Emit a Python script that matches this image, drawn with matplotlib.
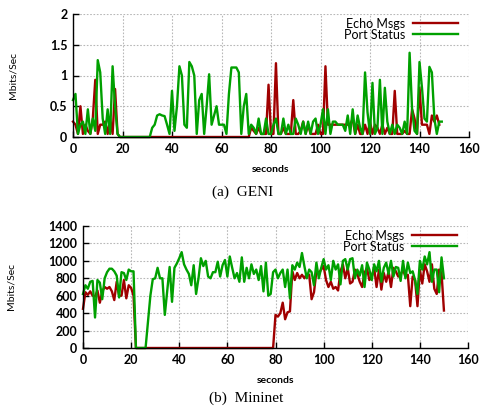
import matplotlib
matplotlib.use("Agg")
import matplotlib.pyplot as plt
import numpy as np

# ---------------- data ----------------
geni_port = [0.60, 0.70, 0.05, 0.20, 0.25, 0.05, 0.45, 0.05, 0.30, 0.10,
             1.25, 1.05, 0.30, 0.05, 0.45, 0.05, 1.15, 0.50, 0.05, 0.00,
             0, 0, 0, 0, 0, 0, 0, 0, 0, 0, 0, 0,
             0.15, 0.20, 0.35, 0.37, 0.35, 0.34, 0.20, 0.05,
             0.75, 0.10, 0.50, 1.15, 1.00, 0.20, 0.15, 1.22, 1.15, 1.00,
             0.05, 0.60, 0.70, 0.05, 0.50, 1.02, 0.20, 0.35, 0.50, 0.20,
             0.20, 0.20, 0.05, 0.70, 1.13, 1.13, 1.13, 1.05, 0.05, 0.50,
             0.70, 0.05, 0.20, 0.15, 0.05, 0.30, 0.05, 0.05, 0.30, 0.05,
             0.05, 0.20, 0.30, 0.05, 0.05, 0.30, 0.05, 0.20, 0.05, 0.05,
             0.30, 0.20, 0.05, 0.25, 0.05, 0.25, 0.05, 0.25, 0.30, 0.05,
             0.20, 0.45, 0.05, 0.45, 0.05, 0.25, 0.25, 0.20, 0.20, 0.20,
             0.10, 0.35, 0.05, 0.45, 0.05, 0.35, 0.15, 0.05, 1.05, 0.40,
             0.05, 0.88, 0.05, 0.15, 0.93, 0.05, 0.80, 0.25, 0.05, 0.20,
             0.05, 0.20, 0.15, 0.05, 0.25, 0.05, 1.37, 0.45, 0.10, 0.05,
             1.22, 0.80, 0.30, 0.25, 1.14, 1.05, 0.30, 0.05, 0.25, 0.25]

geni_echo = [0.25, 0.20, 0.05, 0.50, 0.05, 0.20, 0.10, 0.05, 0.30, 0.93,
             0.05, 0.20, 0.20, 0.25, 0.05, 0.30, 0.05, 0.78, 0.05, 0.00] + [0] * 52 + \
            [0.15, 0.10, 0.05, 0.15, 0.05, 0.05, 0.05, 0.85,
             0.05, 0.05, 1.20, 0.05, 0.05, 0.15, 0.05, 0.05, 0.05, 0.60,
             0.05, 0.05, 0.10, 0.25, 0.05, 0.20, 0.05, 0.05, 0.05, 0.20,
             0.05, 0.05, 1.15, 0.20, 0.20, 0.20, 0.20, 0.20, 0.20, 0.20,
             0.20, 0.20, 0.20, 0.30, 0.05, 0.20, 0.05, 0.05, 0.20, 0.05,
             0.25, 0.05, 0.20, 0.15, 0.05, 0.20, 0.05, 0.15, 0.05, 0.05,
             0.75, 0.05, 0.05, 0.05, 0.10, 0.05, 0.05, 0.45, 0.30, 0.05,
             0.80, 0.20, 0.20, 0.20, 0.05, 0.35, 0.25, 0.35, 0.20]

mini_port = [620, 720, 680, 760, 770, 350, 780, 750, 560, 800,
             870, 910, 910, 880, 830, 580, 870, 860, 780, 900,
             880, 880, 0, 0, 0, 0, 0, 300, 600, 790,
             800, 920, 800, 800, 380, 650, 930, 530, 920, 970,
             1030, 1100, 960, 900, 850, 720, 950, 620, 800, 1030,
             940, 1000, 820, 800, 870, 870, 990, 820, 950, 1010,
             820, 1050, 920, 800, 860, 760, 1040, 760, 920, 800,
             960, 850, 900, 780, 940, 650, 980, 600, 620, 870,
             900, 800, 860, 900, 700, 900, 570, 950, 900, 980,
             930, 1090, 940, 800, 900, 870, 720, 980, 800, 920,
             1020, 900, 950, 780, 1000, 900, 960, 730, 1000, 1020,
             900, 1020, 1030, 800, 900, 830, 950, 700, 980, 900,
             780, 960, 880, 1000, 760, 920, 980, 850, 1000, 820,
             930, 920, 770, 1000, 800, 980, 860, 880, 780, 620,
             1000, 900, 1050, 960, 1100, 760, 900, 900, 640, 1040, 800]

mini_echo = [450, 640, 610, 650, 600, 590, 660, 520, 650, 700,
             680, 700, 650, 550, 760, 600, 600, 780, 570, 720,
             690, 600] + [0] * 58 + \
            [380, 360, 400, 520, 330, 410, 420, 880, 780, 860,
             800, 840, 800, 850, 840, 560, 640, 880, 860, 900,
             940, 780, 700, 760, 680, 700, 660, 880, 960, 800,
             920, 740, 760, 900, 850, 760, 700, 860, 920, 780,
             820, 920, 700, 900, 670, 860, 760, 880, 700, 920,
             880, 820, 840, 900, 820, 840, 480, 820, 780, 480,
             900, 740, 960, 880, 760, 960, 680, 620, 900, 860, 430]

geni_t = np.arange(len(geni_port))
geni_te = np.arange(len(geni_echo))
mini_t = np.arange(len(mini_port))
mini_te = np.arange(len(mini_echo))

x_ticks = [0, 20, 40, 60, 80, 100, 120, 140, 160]
geni_yticks = [0, 0.5, 1, 1.5, 2]
geni_ylabels = ["0", "0.5", "1", "1.5", "2"]
mini_yticks = [0, 200, 400, 600, 800, 1000, 1200, 1400]

RED = "#a00000"
GREEN = "#00a000"
FONT = "Lato"

fig = plt.figure(figsize=(4.83, 4.16), dpi=100)

def style(ax, xlim, ylim, yticks, ylabels=None):
    ax.set_xlim(*xlim)
    ax.set_ylim(*ylim)
    ax.set_xticks(x_ticks)
    ax.set_yticks(yticks)
    if ylabels is not None:
        ax.set_yticklabels(ylabels)
    for s in ["top", "right"]:
        ax.spines[s].set_visible(False)
    for s in ["left", "bottom"]:
        ax.spines[s].set_linewidth(1.0)
        ax.spines[s].set_color("black")
    ax.grid(True, color="#b8b8b8", linestyle=(0, (1.5, 1.5)), linewidth=0.8)
    ax.tick_params(direction="in", length=4, width=1.0, labelsize=9,
                   pad=4)
    for lab in ax.get_xticklabels() + ax.get_yticklabels():
        lab.set_fontfamily(FONT)
        lab.set_fontweight("bold")
    ax.set_axisbelow(True)

# ---------- (a) GENI ----------
ax1 = fig.add_axes([73 / 483, 1 - 137 / 416, 396 / 483, 123 / 416])
ax1.plot(geni_te, geni_echo, color=RED, lw=1.7, label="Echo Msgs", clip_on=False)
ax1.plot(geni_t, geni_port, color=GREEN, lw=1.7, label="Port Status", clip_on=False)
style(ax1, (0, 160), (0, 2), geni_yticks, geni_ylabels)
ax1.set_ylabel("Mbits/Sec", fontsize=7.5, family=FONT)
ax1.yaxis.set_label_coords(-0.14, 0.5)
ax1.set_xlabel("seconds", fontsize=7.5, family=FONT, fontweight="bold")
ax1.xaxis.set_label_coords(0.5, -0.23)
ax1.legend(loc="upper right", bbox_to_anchor=(0.99, 1.03), frameon=False,
           markerfirst=False, handlelength=3.6,
           prop={"family": FONT, "size": 9}, labelspacing=-0.1,
           handletextpad=0.6, borderaxespad=0.2)
fig.text(0.503, 1 - 192 / 416, "(a)  GENI", ha="center", va="center",
         fontsize=11, family="Liberation Serif")

# ---------- (b) Mininet ----------
ax2 = fig.add_axes([83 / 483, 1 - 348 / 416, 385 / 483, 122 / 416])
ax2.plot(mini_te, mini_echo, color=RED, lw=1.7, label="Echo Msgs", clip_on=False)
ax2.plot(mini_t, mini_port, color=GREEN, lw=1.7, label="Port Status", clip_on=False)
style(ax2, (0, 160), (0, 1400), mini_yticks)
ax2.set_ylabel("Mbits/Sec", fontsize=7.5, family=FONT)
ax2.yaxis.set_label_coords(-0.175, 0.5)
ax2.set_xlabel("seconds", fontsize=7.5, family=FONT, fontweight="bold")
ax2.xaxis.set_label_coords(0.5, -0.23)
ax2.legend(loc="upper right", bbox_to_anchor=(0.99, 1.03), frameon=False,
           markerfirst=False, handlelength=3.6,
           prop={"family": FONT, "size": 9}, labelspacing=-0.1,
           handletextpad=0.6, borderaxespad=0.2)
fig.text(0.509, 1 - 398 / 416, "(b)  Mininet", ha="center", va="center",
         fontsize=11, family="Liberation Serif")

fig.savefig("out.png", dpi=100)
